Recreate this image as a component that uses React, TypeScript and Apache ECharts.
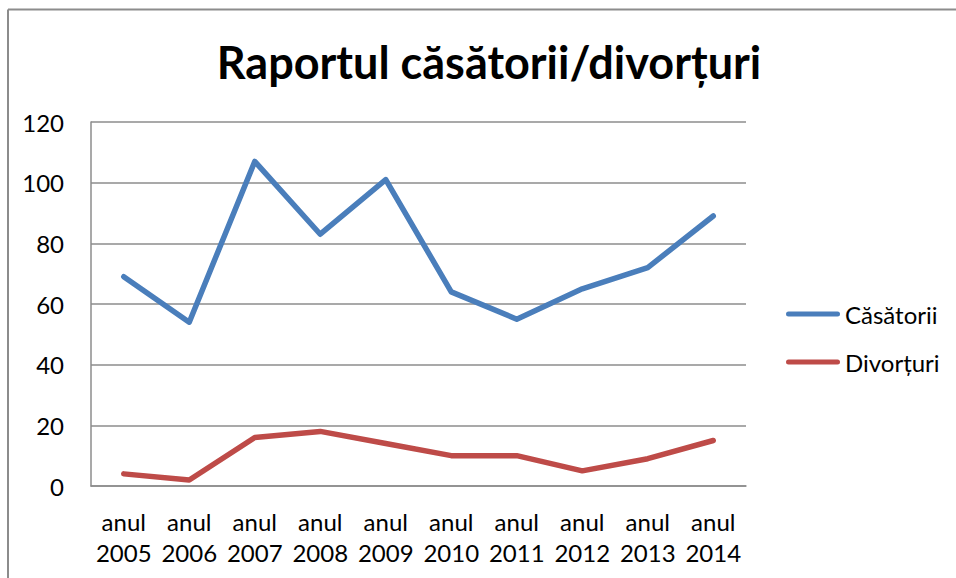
import React, { useEffect, useRef } from "react";
import * as echarts from "echarts";

const title = "Raportul căsătorii/divorțuri";
const categories = [
  "anul\n2005", "anul\n2006", "anul\n2007", "anul\n2008", "anul\n2009",
  "anul\n2010", "anul\n2011", "anul\n2012", "anul\n2013", "anul\n2014",
];
const seriesNames = ["Căsătorii", "Divorțuri"];
const casatorii = [69, 54, 107, 83, 101, 64, 55, 65, 72, 89];
const divorturi = [4, 2, 16, 18, 14, 10, 10, 5, 9, 15];
const yMin = 0;
const yMax = 120;
const yInterval = 20;

const FONT = "Lato, 'Open Sans', sans-serif";

export default function App() {
  const ref = useRef<HTMLDivElement>(null);
  useEffect(() => {
    if (!ref.current) return;
    const chart = echarts.init(ref.current, undefined, { renderer: "svg" });
    chart.setOption({
      animation: false,
      backgroundColor: "#ffffff",
      title: {
        text: title,
        left: 484,
        top: 34,
        textAlign: "center",
        textStyle: { fontFamily: FONT, fontWeight: "bold", fontSize: 45, color: "#000" },
      },
      legend: {
        orient: "vertical",
        left: 786,
        top: 302,
        padding: 0,
        icon: "path://M2.5,0 L51.5,0 A2.5,2.5 0 0 1 51.5,5 L2.5,5 A2.5,2.5 0 0 1 2.5,0 Z",
        itemWidth: 54,
        itemHeight: 24,
        itemGap: 24,
        textStyle: { fontFamily: FONT, fontSize: 24, lineHeight: 24, color: "#000" },
        data: seriesNames,
      },
      grid: { left: 91, right: 210, top: 122, bottom: 92, containLabel: false },
      xAxis: {
        type: "category",
        data: categories,
        boundaryGap: true,
        axisLine: { show: true, lineStyle: { color: "#8c8c8c", width: 1.5 } },
        axisTick: { show: false },
        axisLabel: {
          interval: 0,
          margin: 20,
          fontFamily: FONT,
          fontSize: 24,
          lineHeight: 31,
          color: "#000",
        },
      },
      yAxis: {
        type: "value",
        min: yMin,
        max: yMax,
        interval: yInterval,
        axisLine: { show: true, lineStyle: { color: "#8c8c8c", width: 1.5 } },
        axisTick: { show: false },
        splitLine: { show: true, lineStyle: { color: "#8c8c8c", width: 1.5 } },
        axisLabel: { margin: 27, fontFamily: FONT, fontSize: 24, color: "#000" },
      },
      series: [
        {
          name: seriesNames[0],
          type: "line",
          data: casatorii,
          symbol: "none",
          color: "#4a7ebb",
          lineStyle: { width: 5.5, color: "#4a7ebb", cap: "round", join: "round" },
        },
        {
          name: seriesNames[1],
          type: "line",
          data: divorturi,
          symbol: "none",
          color: "#be4b48",
          lineStyle: { width: 5.5, color: "#be4b48", cap: "round", join: "round" },
        },
      ],
      graphic: [
        { type: "line", shape: { x1: 8, y1: 9.5, x2: 956, y2: 9.5 }, style: { stroke: "#8c8c8c", lineWidth: 2 } },
        { type: "line", shape: { x1: 8, y1: 9.5, x2: 8, y2: 578 }, style: { stroke: "#8c8c8c", lineWidth: 2 } },
      ],
    });
    return () => chart.dispose();
  }, []);
  return (
    <div
      ref={ref}
      style={{ position: "fixed", left: 0, top: 0, width: 956, height: 578 }}
    />
  );
}
